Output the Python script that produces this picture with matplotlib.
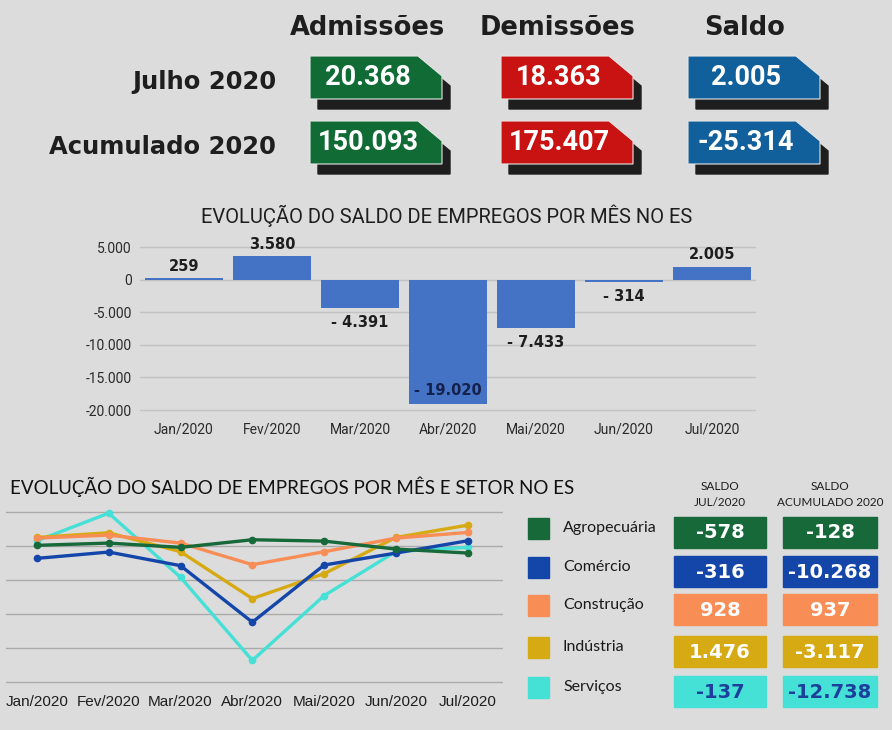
import matplotlib
matplotlib.use('Agg')
import matplotlib.pyplot as plt
from matplotlib.patches import Polygon, Rectangle

# ---- data ----
header_cols = ['Admissões', 'Demissões', 'Saldo']
header_rows = ['Julho 2020', 'Acumulado 2020']
admissoes = [20368, 150093]
demissoes = [18363, 175407]
saldo = [2005, -25314]

meses = ['Jan/2020', 'Fev/2020', 'Mar/2020', 'Abr/2020',
         'Mai/2020', 'Jun/2020', 'Jul/2020']
saldo_mes = [259, 3580, -4391, -19020, -7433, -314, 2005]

setores = ['Agropecuária', 'Comércio', 'Construção', 'Indústria', 'Serviços']
agro = [30, 195, -120, 440, 340, -245, -537]
comercio = [-927, -463, -1463, -5610, -1415, -537, 366]
construcao = [561, 780, 195, -1390, -440, 561, 976]
industria = [610, 951, -440, -3878, -2049, 610, 1512]
servicos = [366, 2390, -2317, -8415, -3659, -415, -122]

saldo_jul_setor = [-578, -316, 928, 1476, -137]
saldo_acum_setor = [-128, -10268, 937, -3117, -12738]

# ---- style ----
BG = '#dcdcdc'
W, H = 892, 730
tag_colors = ['#106b35', '#c91212', '#11609b']
setor_colors = ['#17693a', '#1446aa', '#f98d56', '#d6aa12', '#45e0d6']
cell_text = ['white', 'white', 'white', 'white', '#1d3f9c']


def fmt(v):
    return f"{v:,}".replace(',', '.')


def fig_rect(x0, y0, x1, y1):
    # pixel box (top-left origin) -> figure fraction
    return [x0 / W, 1 - y1 / H, (x1 - x0) / W, (y1 - y0) / H]


fig = plt.figure(figsize=(W / 100, H / 100), dpi=100, facecolor=BG)

bg = fig.add_axes([0, 0, 1, 1], zorder=0)
bg.set_xlim(0, W)
bg.set_ylim(H, 0)
bg.axis('off')

# ---- header ----
col_x0 = [310, 501, 688]
row_y0 = [56, 121]
tw, th, cut, drop = 132, 43, 24, 20
for x0, name in zip(col_x0, header_cols):
    bg.text(x0 + 57, 28, name, ha='center', va='center',
            fontsize=18.5, fontweight='bold', color='#1e1e1e')
for y0, name in zip(row_y0, header_rows):
    bg.text(276, y0 + th / 2 + 4, name, ha='right', va='center',
            fontsize=17.5, fontweight='bold', color='#1e1e1e')

values = [admissoes, demissoes, saldo]
for j, (x0, col) in enumerate(zip(col_x0, values)):
    for y0, v in zip(row_y0, col):
        pts = [(x0, y0), (x0 + tw - cut, y0), (x0 + tw, y0 + drop),
               (x0 + tw, y0 + th), (x0, y0 + th)]
        shadow = [(px + 8, py + 10) for px, py in pts]
        bg.add_patch(Polygon(shadow, closed=True, color='#1e1e1e'))
        bg.add_patch(Polygon(pts, closed=True, facecolor=tag_colors[j],
                             edgecolor='#e6e6e6', linewidth=0.8))
        bg.text(x0 + 58, y0 + th / 2, fmt(v), ha='center', va='center',
                fontsize=19.5, fontweight='bold', color='white',
                family='Roboto')

# ---- bar chart ----
bg.text(447, 216, 'EVOLUÇÃO DO SALDO DE EMPREGOS POR MÊS NO ES',
        ha='center', va='center', fontsize=14.5, family='Roboto',
        color='#1e1e1e')

ax = fig.add_axes(fig_rect(140, 238, 756, 414), zorder=2)
ax.set_facecolor('none')
x = range(len(meses))
bars = ax.bar(x, saldo_mes, width=0.89, color='#4472c4', zorder=3)
ax.set_xlim(-0.5, len(meses) - 0.5)
ax.set_ylim(-20600, 6400)
ax.set_yticks([5000, 0, -5000, -10000, -15000, -20000])
ax.set_yticklabels([fmt(t) for t in ax.get_yticks().astype(int)])
ax.set_xticks(list(x))
ax.set_xticklabels(meses)
ax.grid(axis='y', color='#c2c2c2', linewidth=1, zorder=0)
for s in ax.spines.values():
    s.set_visible(False)
ax.tick_params(length=0, labelsize=10, labelcolor='#2a2a2a', pad=6)
for lab in ax.get_xticklabels() + ax.get_yticklabels():
    lab.set_family('Roboto')

for i, v in enumerate(saldo_mes):
    if v >= 0:
        ax.annotate(fmt(v), (i, v), xytext=(0, 3), textcoords='offset points',
                    ha='center', va='bottom', fontsize=10.5,
                    fontweight='bold', color='#1e1e1e')
    elif v == min(saldo_mes):
        ax.annotate('- ' + fmt(-v), (i, v), xytext=(0, 4),
                    textcoords='offset points', ha='center', va='bottom',
                    fontsize=10.5, fontweight='bold', color='#14214a')
    else:
        ax.annotate('- ' + fmt(-v), (i, v), xytext=(0, -5),
                    textcoords='offset points', ha='center', va='top',
                    fontsize=10.5, fontweight='bold', color='#1e1e1e')

# ---- line chart ----
bg.text(10, 487, 'EVOLUÇÃO DO SALDO DE EMPREGOS POR MÊS E SETOR NO ES',
        ha='left', va='center', fontsize=13.5, family='Lato',
        color='#111111')

lx = fig.add_axes(fig_rect(6, 505, 503, 688), zorder=2)
lx.set_facecolor('none')
series = [agro, comercio, construcao, industria, servicos]
order = [4, 3, 2, 1, 0]
for k in order:
    lx.plot(range(len(meses)), series[k], color=setor_colors[k],
            linewidth=2.4, marker='o', markersize=4.5, zorder=3 + (4 - k))
lx.set_xlim(-0.43, 6.49)
lx.set_ylim(-10440, 2990)
lx.set_yticks([2500, 0, -2500, -5000, -7500, -10000])
lx.set_yticklabels([])
lx.set_xticks(range(len(meses)))
lx.set_xticklabels(meses)
lx.grid(axis='y', color='#aaaaaa', linewidth=1, zorder=0)
for s in lx.spines.values():
    s.set_visible(False)
lx.tick_params(length=0, labelsize=11, labelcolor='#1e1e1e', pad=5)
for lab in lx.get_xticklabels():
    lab.set_family('Liberation Sans')

# ---- legend + table ----
row_c = [532, 571, 609, 651, 691]
cell_x0 = [674, 783]
cell_w = [92, 94]
cell_h = 31
bg.text(720, 487, 'SALDO', ha='center', va='center', fontsize=8.5,
        family='Lato', color='#1e1e1e')
bg.text(720, 503, 'JUL/2020', ha='center', va='center', fontsize=8.5,
        family='Lato', color='#1e1e1e')
bg.text(830, 487, 'SALDO', ha='center', va='center', fontsize=8.5,
        family='Lato', color='#1e1e1e')
bg.text(830, 503, 'ACUMULADO 2020', ha='center', va='center', fontsize=8.5,
        family='Lato', color='#1e1e1e')

for k, name in enumerate(setores):
    yc = row_c[k]
    bg.add_patch(Rectangle((528, yc - 14), 21, 21, color=setor_colors[k]))
    bg.text(563, yc - 4, name, ha='left', va='center', fontsize=11.5,
            family='Lato', color='#1a1a1a')
    for x0, w, col in zip(cell_x0, cell_w, [saldo_jul_setor, saldo_acum_setor]):
        bg.add_patch(Rectangle((x0, yc - cell_h / 2), w, cell_h,
                               color=setor_colors[k]))
        bg.text(x0 + w / 2, yc + 1, fmt(col[k]), ha='center', va='center',
                fontsize=14, fontweight='bold', color=cell_text[k])

fig.savefig('out.png', dpi=100, facecolor=BG)
